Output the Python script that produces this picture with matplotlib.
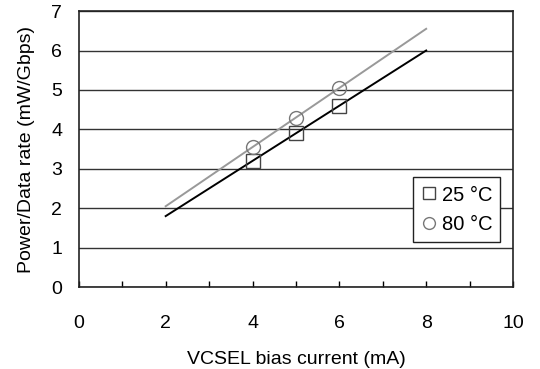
import matplotlib
matplotlib.use("Agg")
import matplotlib.pyplot as plt
import numpy as np

plt.rcParams['font.family'] = ['Liberation Sans', 'DejaVu Sans']

# data
current = [4, 5, 6]
p25 = [3.2, 3.9, 4.6]
p80 = [3.55, 4.3, 5.05]
fit_x = [2, 8]

fig = plt.figure(figsize=(5.4, 3.69), dpi=100)
ax = fig.add_axes([0.146, 0.222, 0.804, 0.748])

# trend lines
k25 = np.polyfit(current, p25, 1)
k80 = np.polyfit(current, p80, 1)
ax.plot(fit_x, np.polyval(k80, fit_x), color='#999999', lw=1.4, zorder=3)
ax.plot(fit_x, np.polyval(k25, fit_x), color='black', lw=1.4, zorder=3)

ax.plot(current, p25, ls='none', marker='s', ms=10, mfc='none', mec='#444444',
        mew=1.0, label='25 °C', zorder=4)
ax.plot(current, p80, ls='none', marker='o', ms=10, mfc='none', mec='#777777',
        mew=1.0, label='80 °C', zorder=4)

ax.set_xlim(0, 10)
ax.set_ylim(0, 7)
ax.set_xticks(range(0, 11, 2))
ax.set_xticks(range(0, 11), minor=True)
ax.set_yticks(range(0, 8))
ax.tick_params(axis='x', which='both', direction='in', length=4, width=1,
               labelsize=14, pad=20)
ax.tick_params(axis='y', length=0, labelsize=14, pad=12)
ax.yaxis.grid(True, color='#333333', lw=1)
ax.set_axisbelow(True)
for s in ax.spines.values():
    s.set_color('#222222')
    s.set_linewidth(1.2)

ax.set_xlabel('VCSEL bias current (mA)', fontsize=14, labelpad=14)
ax.set_ylabel('Power/Data rate (mW/Gbps)', fontsize=14, labelpad=12)

leg = ax.legend(loc='lower right', bbox_to_anchor=(0.98, 0.15), frameon=True,
                fancybox=False, edgecolor='#222222', framealpha=1,
                handlelength=0.7, handletextpad=0.3, borderpad=0.4,
                labelspacing=0.5, fontsize=14.5, markerscale=0.85,
                borderaxespad=0.2)
leg.get_frame().set_linewidth(1)

fig.savefig('out.png', dpi=100)
